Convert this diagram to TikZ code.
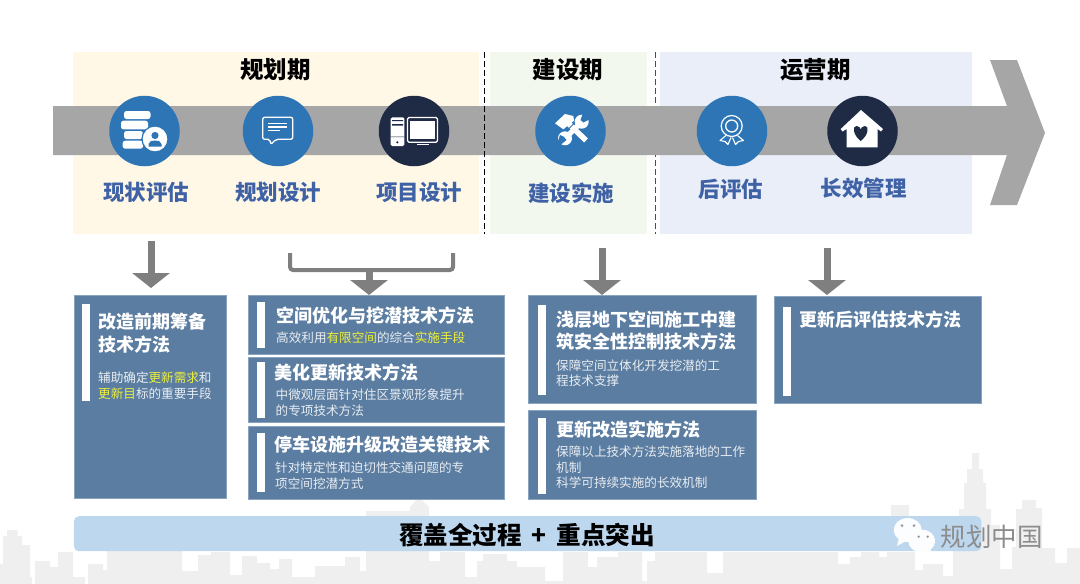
\documentclass[tikz,border=0pt]{standalone}
\usepackage{fontspec}
\setmainfont{Noto Sans CJK SC}
\usetikzlibrary{arrows.meta,calc}
\definecolor{panelyellow}{HTML}{FFF8E6}
\definecolor{panelgreen}{HTML}{F3F8EE}
\definecolor{panelblue}{HTML}{E9EEF8}
\definecolor{bandgray}{HTML}{A6A6A6}
\definecolor{arrowgray}{HTML}{7F7F7F}
\definecolor{circblue}{HTML}{2E75B6}
\definecolor{circdark}{HTML}{1F2A44}
\definecolor{labelblue}{HTML}{3F62A6}
\definecolor{boxblue}{HTML}{5B7DA1}
\definecolor{boxedge}{HTML}{8AA3BE}
\definecolor{subwhite}{HTML}{E8EDF2}
\definecolor{hilite}{HTML}{EDF03C}
\definecolor{bannerblue}{HTML}{BDD7EE}
\definecolor{skyline}{HTML}{EFEFEF}
\tikzset{
  panel/.style={inner sep=0pt,anchor=north west},
  phasetitle/.style={font=\fontsize{23.5}{28}\selectfont\bfseries,text=black,inner sep=0pt},
  phaselabel/.style={font=\fontsize{21.5}{26}\selectfont\bfseries,text=labelblue,inner sep=0pt},
  iconcirc/.style={circle,minimum size=70.5pt,inner sep=0pt},
  techbox/.style={fill=boxblue,draw=boxedge,line width=0.7pt,inner sep=0pt,anchor=north west},
  techhead/.style={font=\fontsize{18}{22.6}\selectfont\bfseries,text=white,align=left,anchor=west,inner sep=0pt},
  techsub/.style={font=\fontsize{12.6}{15.4}\selectfont,text=subwhite,align=left,anchor=west,inner sep=0pt},
  bigarrow/.style={draw=arrowgray,line width=7pt,-{Triangle[length=15pt,width=37pt]}},
  phaseline/.style={line width=0.7pt,dash pattern=on 6pt off 3pt},
}
\begin{document}
\begin{tikzpicture}[x=1pt,y=-1pt]
  \useasboundingbox (0,0) rectangle (1080,584);
  % skyline
  \fill[skyline] (0,584)--(0,564)--(3,564)--(3,536)--(7,536)--(7,530)--(17.5,530)--(17.5,536)--(22,536)--(22,545)--(30,545)--(30,577)--(32,577)--(32,584)
    --(35,584)--(35,561)--(50,561)--(50,567)--(58,567)--(58,552)--(73,552)--(73,577)--(85,577)--(85,584)--(88,584)--(88,564)--(103,564)--(103,570)--(107,570)--(107,545)
    --(182,545)--(182,571)--(198,571)--(198,555)--(211,555)--(211,552)--(230,552)--(230,575)--(242,575)--(242,556)--(257,556)--(257,563)--(270,563)--(270,569)--(279,569)--(279,559)--(292,559)--(292,577)
    --(315,577)--(315,566)--(345,566)--(345,557)--(360,557)--(360,571)--(366,571)--(366,511)--(410,511)--(410,507)--(419,497)--(429,507)--(429,561)
    --(440,561)--(440,552)--(465,552)--(465,577)--(477,577)--(477,561)--(483,561)--(483,554)--(507,554)--(507,561)--(517,561)--(517,567)--(545,567)--(545,581)--(563,581)--(563,552)
    --(588,552)--(588,567)--(597,567)--(597,557)--(618,557)--(618,552)--(642,552)--(642,581)--(647,581)--(647,561)--(655,561)--(655,552)--(707,552)--(707,573)--(723,573)--(723,552)
    --(838,552)--(838,564)--(850,564)--(850,557)--(861,557)--(861,552)--(879,552)--(879,557)--(887,557)--(887,552)--(915,552)--(915,570)--(923,570)--(923,564)--(943,564)--(943,576)--(953,576)--(953,545)
    --(959,545)--(959,509)--(964,509)--(964,483)--(967,483)--(967,469)--(972,469)--(972,453)--(979,453)--(979,469)--(983,469)--(983,483)--(986,483)--(986,509)--(991,509)--(991,525)--(1000,525)--(1000,569)
    --(1012,569)--(1012,547)--(1016,547)--(1016,509)--(1022,509)--(1022,500)--(1036,500)--(1036,508)--(1042,508)--(1042,548)--(1055,548)--(1055,563)--(1067,563)--(1067,548)--(1080,548)--(1080,584)--cycle;
  \fill[skyline] (891,505) rectangle (909,520);
  % phase panels
  \foreach \N/\X/\Y/\W/\C in {panelA/73/52/406/panelyellow, panelB/490/52/156.5/panelgreen, panelC/660/52/312/panelblue}{
    \node[panel,fill=\C,minimum width=\W pt,minimum height=182pt] (\N) at (\X,\Y) {};
  }
  \draw[phaseline,draw=black!70] (655,52)--(655,234);
  % time band
  \fill[bandgray] (53,106)--(1007,106)--(990,60)--(1017,60)--(1045,133)--(1017,205)--(990,205)--(1007,155)--(53,155)--cycle;
  \draw[phaseline] (484.5,52)--(484.5,234);
  \foreach \N/\X/\C in {circA/144.5/circblue, circB/278/circblue, circC/414/circdark, circD/570.5/circblue, circE/732/circblue, circF/862.5/circdark}{
    \node[iconcirc,fill=\C] (\N) at (\X,131) {};
  }
  \foreach \L/\X/\Y/\T in {titleA/275.5/70/规划期, titleB/568/70/建设期, titleC/815.5/70/运营期}{
    \node[phasetitle] (\L) at (\X,\Y) {\T};
  }
  \foreach \L/\X/\Y/\T in {labelA/146/192/现状评估, labelB/278/192/规划设计, labelC/419/192/项目设计, labelD/571/193/建设实施, labelE/731/189/后评估, labelF/863.5/188/长效管理}{
    \node[phaselabel] (\L) at (\X,\Y) {\T};
  }
  % icon: data stack and person
  \fill[white,rounded corners=2.5pt] (124,111) rectangle (150.5,119) (121,120.7) rectangle (148,129.3) (124,131) rectangle (143,139) (122.7,140.7) rectangle (143,148.7);
  \draw[circblue,fill=white,line width=1.2pt] (155,139) circle (13pt);
  \fill[circblue] (155,135.5) circle (3.6pt);
  \fill[circblue] (148.5,146.5)--(148.5,144) .. controls (149,141) and (152,140.5) .. (155,140.5) .. controls (158,140.5) and (161,141) .. (161.5,144)--(161.5,146.5)--cycle;
  % icon: speech bubble
  \draw[white,line width=1.3pt,rounded corners=2pt,line join=round] (262.7,117.3)--(292.7,117.3)--(292.7,139.3)--(276,139.3)--(270.7,144.5)--(270,139.3)--(262.7,139.3)--cycle;
  \draw[white,line width=1.1pt] (268.3,123.3)--(287.3,123.3) (268.3,127)--(287,127) (268.3,130.7)--(280,130.7);
  % icon: computer
  \fill[white,rounded corners=1.5pt] (390.7,117.3) rectangle (404.3,146);
  \fill[circdark] (392,120) rectangle (403,121.2) (392,124) rectangle (403,125.6) (390.7,136.5) rectangle (404.3,137) (397.3,142.3) circle (1.2pt);
  \draw[white,line width=1.2pt,rounded corners=1.5pt] (407.5,117.5) rectangle (437.5,142.2);
  \fill[white] (410,120.7) rectangle (435,139.3);
  \fill[white] (417.3,144) rectangle (429.3,145.4);
  % icon: hammer and wrench
  \draw[white,line width=5.5pt] (566.7,121.7)--(586,140.5);
  \fill[white] (555,123.3)--(565,114)--(573.3,116)--(574,120.7)--(563.3,129.3)--cycle;
  \draw[circblue,line width=1pt] (569,128.5)--(574,123.5) (571.5,131)--(576.5,126);
  \draw[white,line width=5pt] (580,123.5)--(566.5,137);
  \fill[white] (581.7,121.7) circle (7pt) (565,138.3) circle (7pt);
  \fill[circblue] (580.5,120)--(584.5,109)--(593,117.5)--(583.5,122.5)--cycle (566.5,140)--(555.5,149)--(560,135)--(563.5,136.5)--cycle;
  % icon: rosette
  \draw[white,line width=1.2pt] (731.7,126) circle (10.5pt);
  \draw[white,line width=1.3pt] (731.7,126) circle (6pt);
  \draw[white,line width=1.1pt,line join=round] (726,135.5)--(720,140.5)--(725,141.5)--(728,144.5)--(731,137.5) (737.5,135.5)--(743.5,140.5)--(738.5,141.5)--(735.5,144.5)--(732.5,137.5);
  % icon: house with heart
  \fill[white] (861,110)--(883,129)--(881,131.5)--(877.7,129)--(877.7,147.3)--(846.7,147.3)--(846.7,129)--(842.5,131.5)--(840.7,129)--cycle;
  \fill[circdark] (860.7,141) .. controls (853,135) and (852,126) .. (856.5,126) .. controls (859,126) and (860.7,128) .. (860.7,129.5) .. controls (860.7,128) and (862.5,126) .. (865,126) .. controls (869.5,126) and (868.5,135) .. (860.7,141) -- cycle;
  % technique boxes
  \foreach \N/\X/\Y/\W/\H in {boxA/74/295/152/203, boxBa/248/295/256/59, boxBb/248/357/256/65, boxBc/248/426/256/73, boxCa/528/295/228/108, boxCb/528/410/228/89, boxD/774/296/207/107}{
    \node[techbox,minimum width=\W pt,minimum height=\H pt] (\N) at (\X,\Y) {};
  }
  \foreach \X/\Y/\H in {82/304/97, 257/302/46, 257/362/56, 257/433/59, 538/305/90, 538/418/76, 783/307/89}{
    \fill[white] (\X,\Y) rectangle ++(7.5,\H);
  }
  \node[techhead] (headA) at (98,333) {改造前期筹备\\技术方法};
  \node[techsub] (subA) at (98,385.5) {辅助确定\textcolor{hilite}{更新需求}和\\\textcolor{hilite}{更新目}标的重要手段};
  \node[techhead] (headBa) at (276,316) {空间优化与挖潜技术方法};
  \node[techsub] (subBa) at (276,338) {高效利用\textcolor{hilite}{有限空间}的综合\textcolor{hilite}{实施手段}};
  \node[techhead] (headBb) at (274,373) {美化更新技术方法};
  \node[techsub] (subBb) at (275.5,402.5) {中微观层面针对住区景观形象提升\\的专项技术方法};
  \node[techhead] (headBc) at (274,445) {停车设施升级改造关键技术};
  \node[techsub] (subBc) at (275,475.5) {针对特定性和迫切性交通问题的专\\项空间挖潜方式};
  \node[techhead] (headCa) at (556,330.5) {浅层地下空间施工中建\\筑安全性控制技术方法};
  \node[techsub] (subCa) at (556,373) {保障空间立体化开发挖潜的工\\程技术支撑};
  \node[techhead] (headCb) at (556,430) {更新改造实施方法};
  \node[techsub] (subCb) at (556,467.5) {保障以上技术方法实施落地的工作\\机制\\科学可持续实施的长效机制};
  \node[techhead] (headD) at (799,320) {更新后评估技术方法};
  % arrows to boxes
  \coordinate (startA) at (151,241);
  \coordinate (stemB) at (369,270);
  \coordinate (startC) at (602,248);
  \coordinate (startD) at (827,248);
  \draw[bigarrow,shorten >=7pt] (startA) -- (startA |- boxA.north);
  \draw[draw=arrowgray,line width=4pt,rounded corners=3pt] (290,253)--(290,270)--(453,270)--(453,253);
  \draw[bigarrow] (stemB) -- (stemB |- boxBa.north);
  \draw[bigarrow] (startC) -- (startC |- boxCa.north);
  \draw[bigarrow] (startD) -- (startD |- boxCa.north);
  % banner
  \node[fill=bannerblue,rounded corners=5pt,minimum width=907.5pt,minimum height=35pt,inner sep=0pt,anchor=north west] (banner) at (73.7,516) {};
  \node[font=\fontsize{24.6}{28}\selectfont\bfseries,text=black,inner sep=0pt] (bannertext) at (527,535) {覆盖全过程\hspace{4pt} + \hspace{4pt}重点突出};
  % watermark
  \fill[white!96!bannerblue] (907.7,530) ellipse (14pt and 12pt);
  \fill[white!96!bannerblue] (899,538)--(897,546)--(906,541)--cycle;
  \draw[white,fill=white!94!bannerblue,line width=0.8pt] (921.7,541) ellipse (13pt and 11pt);
  \fill[white!94!bannerblue] (926,549)--(931,552.5)--(930,545)--cycle;
  \fill[black!40] (902,525.7) circle (1.5pt) (914,525.7) circle (1.5pt) (918.7,536.7) circle (1.3pt) (927.7,536.7) circle (1.3pt);
  \node[font=\fontsize{25.5}{30}\selectfont,text=black!45,inner sep=0pt] (mark) at (991.5,536.7) {规划中国};
\end{tikzpicture}
\end{document}
